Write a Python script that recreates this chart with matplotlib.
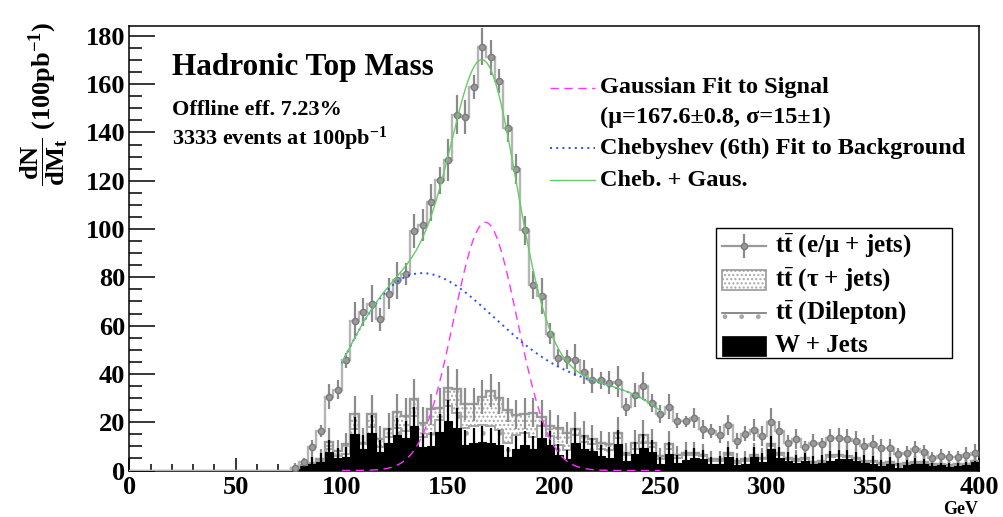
import numpy as np
import matplotlib
matplotlib.use('Agg')
import matplotlib.pyplot as plt
from matplotlib.lines import Line2D
from matplotlib.patches import Rectangle
from matplotlib.ticker import MultipleLocator
from numpy.polynomial import Chebyshev

plt.rcParams['font.family'] = ['Liberation Serif', 'DejaVu Serif']
plt.rcParams['font.weight'] = 'bold'
plt.rcParams['mathtext.fontset'] = 'custom'
plt.rcParams['mathtext.rm'] = 'Liberation Serif:bold'
plt.rcParams['mathtext.it'] = 'Liberation Serif:italic:bold'
plt.rcParams['mathtext.bf'] = 'Liberation Serif:bold'
plt.rcParams['hatch.linewidth'] = 1.0

# ---------------- data (4 GeV bins, 0-400 GeV); bins 0-18 are empty ----------------
bin_edges = np.arange(0, 404, 4)
n_empty = 19

# e/mu + jets : top of the full stack (data points)
total_vals = [1.0, 3.4, 9.7, 16.2, 30.6, 33.5, 45.6, 62.0, 65.7, 69.1,
              62.6, 73.3, 78.8, 81.3, 99.3, 101.6, 111.0, 120.2, 128.7, 147.4,
              146.3, 158.7, 175.6, 171.2, 161.2, 141.7, 124.7, 99.5, 76.9, 72.3,
              56.7, 46.7, 46.0, 45.8, 40.8, 37.3, 37.3, 36.4, 36.8, 26.4,
              31.2, 35.0, 27.9, 23.5, 26.5, 20.7, 20.3, 21.9, 17.0, 16.3,
              14.9, 18.7, 12.2, 15.3, 16.7, 14.2, 20.0, 16.3, 11.5, 12.9,
              9.8, 11.2, 10.8, 13.3, 13.3, 12.9, 12.2, 10.1, 10.8, 9.4,
              9.4, 6.9, 7.3, 8.7, 7.6, 5.3, 5.9, 5.5, 5.5, 6.6, 7.3]
total_err = [0.8, 1.5, 2.8, 2.5, 5.1, 3.8, 3.0, 7.7, 5.8, 7.7,
             4.8, 6.5, 7.7, 4.5, 7.0, 6.5, 7.5, 5.5, 8.6, 8.0,
             7.0, 5.0, 7.7, 7.3, 5.0, 5.5, 6.2, 6.0, 5.8, 7.6,
             4.5, 3.8, 4.0, 6.5, 4.8, 5.1, 3.5, 4.8, 6.5, 3.8,
             5.1, 6.0, 3.8, 3.8, 5.1, 3.0, 2.4, 4.1, 3.8, 2.8,
             3.5, 4.1, 3.5, 3.2, 4.5, 4.1, 5.7, 4.1, 3.0, 4.1,
             2.4, 3.8, 2.8, 3.8, 4.5, 4.1, 4.1, 3.5, 4.1, 3.5,
             3.5, 2.4, 3.0, 3.5, 2.8, 2.4, 2.8, 2.4, 2.4, 3.0, 3.5]

# stack level: W + dilepton + tau (top of tau+jets histogram)
tau_stack = [1.0, 2.2, 3.2, 4.8, 11.8, 8.0, 10.8, 23.2, 11.5, 23.2,
             12.9, 17.0, 24.2, 22.5, 29.5, 19.8, 25.3, 26.0, 34.3, 33.6,
             27.4, 27.5, 30.5, 33.0, 30.0, 25.0, 23.0, 23.5, 24.0, 22.0,
             18.4, 17.7, 15.6, 17.3, 14.2, 12.9, 11.2, 11.0, 15.6, 7.3,
             11.5, 14.8, 11.5, 6.0, 11.0, 6.4, 7.3, 7.3, 6.6, 4.6,
             4.6, 7.3, 4.1, 4.6, 6.6, 5.3, 10.8, 7.3, 5.3, 4.6,
             5.0, 3.6, 4.1, 6.6, 6.6, 5.9, 5.3, 4.1, 4.1, 3.2,
             3.6, 2.8, 3.2, 3.6, 3.6, 2.5, 2.8, 2.2, 2.5, 2.8, 3.9]
tau_stack_err = [2.1, 3.0, 3.5, 4.0, 5.7, 4.7, 4.9, 7.7, 6.1, 7.9,
                 5.7, 6.8, 7.6, 7.4, 8.5, 6.3, 6.4, 8.0, 9.0, 8.4,
                 6.6, 6.8, 7.0, 6.8, 6.6, 4.9, 6.0, 6.5, 6.0, 7.4,
                 6.5, 5.2, 4.5, 6.8, 6.1, 5.8, 5.1, 4.8, 6.6, 4.2,
                 5.4, 6.2, 5.7, 3.5, 5.4, 3.8, 4.4, 4.7, 4.5, 3.5,
                 3.6, 4.9, 3.3, 3.5, 4.9, 4.0, 6.0, 4.8, 4.2, 3.8,
                 4.2, 3.6, 3.8, 4.3, 4.5, 4.5, 4.2, 3.8, 3.6, 3.0,
                 3.5, 2.5, 3.3, 3.6, 3.6, 3.0, 3.3, 2.7, 3.0, 3.3, 4.0]

# stack level: W + dilepton
dilep_stack = [0.8, 2.0, 2.9, 4.1, 9.1, 6.0, 7.0, 17.0, 11.0, 18.2,
               9.6, 13.7, 17.5, 16.5, 22.4, 13.7, 15.0, 21.0, 26.6, 23.8,
               17.5, 18.3, 19.0, 18.5, 16.6, 11.5, 14.7, 15.4, 13.7, 18.6,
               14.4, 10.4, 8.6, 14.5, 12.0, 11.0, 9.0, 8.3, 13.3, 6.4,
               8.9, 11.4, 9.6, 4.6, 9.0, 5.2, 6.4, 6.4, 5.8, 3.8,
               3.9, 6.6, 3.3, 3.8, 6.2, 4.6, 10.0, 6.5, 4.7, 4.0,
               4.6, 3.3, 3.7, 5.6, 5.8, 5.4, 4.7, 3.7, 3.6, 2.6,
               3.2, 2.1, 2.8, 3.3, 3.3, 2.2, 2.6, 1.9, 2.2, 2.6, 3.8]

# W + jets
wjets = [0.7, 1.8, 2.5, 3.6, 7.6, 5.0, 5.5, 15.0, 9.0, 15.7,
         7.6, 11.2, 14.5, 13.5, 18.4, 9.7, 10.0, 16.0, 20.6, 17.8,
         10.5, 11.3, 12.0, 11.5, 10.6, 5.5, 8.7, 10.4, 8.7, 13.6,
         10.4, 6.4, 4.6, 11.5, 9.0, 8.0, 6.0, 5.3, 10.8, 3.9,
         6.9, 9.4, 7.6, 2.6, 7.0, 3.2, 4.4, 5.0, 4.6, 2.5,
         2.8, 5.5, 2.2, 2.5, 5.5, 3.6, 8.7, 5.3, 3.9, 3.2,
         4.0, 2.8, 3.2, 4.1, 4.6, 4.6, 3.9, 3.2, 2.8, 1.8,
         2.5, 1.1, 2.2, 2.8, 2.8, 1.8, 2.2, 1.4, 1.8, 2.2, 3.6]
wjets_err = [1.6, 2.5, 3.0, 3.5, 5.2, 4.2, 4.4, 7.2, 5.6, 7.4,
             5.2, 6.3, 7.1, 6.9, 8.0, 5.8, 5.9, 7.5, 8.5, 7.9,
             6.1, 6.3, 6.5, 6.3, 6.1, 4.4, 5.5, 6.0, 5.5, 6.9,
             6.0, 4.7, 4.0, 6.3, 5.6, 5.3, 4.6, 4.3, 6.1, 3.7,
             4.9, 5.7, 5.2, 3.0, 4.9, 3.3, 3.9, 4.2, 4.0, 3.0,
             3.1, 4.4, 2.8, 3.0, 4.4, 3.5, 5.5, 4.3, 3.7, 3.3,
             3.7, 3.1, 3.3, 3.8, 4.0, 4.0, 3.7, 3.3, 3.1, 2.5,
             3.0, 2.0, 2.8, 3.1, 3.1, 2.5, 2.8, 2.2, 2.5, 2.8, 3.5]

# fit results
gaus_mu, gaus_sigma, gaus_amp = 167.6, 15.0, 102.8
fit_range = (100, 250)
# points
cheb_x = [100, 108, 115, 125, 135, 144, 156, 168, 184, 202, 216, 232, 247, 250]
cheb_y = [44.5, 57.5, 68.5, 77.5, 81.5, 80.5, 75.5, 66.5, 53.5, 43.0, 37.8, 33.5, 26.5, 24.8]

x_ticks = [0, 50, 100, 150, 200, 250, 300, 350, 400]
y_ticks = [0, 20, 40, 60, 80, 100, 120, 140, 160, 180]


def full(vals):
    return np.concatenate([np.zeros(n_empty), np.asarray(vals, float)])


total = full(total_vals); total_e = full(total_err)
top = full(tau_stack); top_e = full(tau_stack_err)
mid = full(dilep_stack)
w = full(wjets); w_e = full(wjets_err)
centers = 0.5 * (bin_edges[:-1] + bin_edges[1:])

# ---------------- figure ----------------
FW, FH = 1004, 517
fig = plt.figure(figsize=(FW / 100, FH / 100), dpi=100)
ax = fig.add_axes([129.5 / FW, 1 - 470.5 / FH, (979 - 129.5) / FW, (470.5 - 26) / FH])

GRAY_OUT = '#9a9a9a'
GRAY_HATCH = '#a8a8a8'

# tau+jets stack (dense dots)
ax.stairs(top, bin_edges, baseline=mid, fill=True, facecolor='white',
          edgecolor=GRAY_HATCH, hatch='....', linewidth=0, zorder=1)
ax.stairs(top, bin_edges, baseline=None, color=GRAY_OUT, lw=1.7, zorder=2)
nz = top > 0
ax.vlines(centers[nz], top[nz] - top_e[nz], top[nz] + top_e[nz], color='#8c8c8c', lw=1.6, zorder=2)

# dilepton stack (sparse dots)
ax.stairs(mid, bin_edges, baseline=w, fill=True, facecolor='white',
          edgecolor=GRAY_HATCH, hatch='.', linewidth=0, zorder=3)
ax.stairs(mid, bin_edges, baseline=None, color='#a5a5a5', lw=1.4, zorder=3)

# W + jets
ax.stairs(w, bin_edges, baseline=0, fill=True, facecolor='black', edgecolor='black', lw=0.8, zorder=4)
nz = w > 0
ax.vlines(centers[nz], w[nz] - w_e[nz], w[nz] + w_e[nz], color='black', lw=1.6, zorder=4)

# e/mu + jets (total) histogram with points
ax.stairs(total, bin_edges, baseline=None, color='#b5b5b5', lw=1.7, zorder=5)
nz = total > 0
ax.errorbar(centers[nz], total[nz], yerr=total_e[nz], fmt='o', color='#8a8a8a',
            ms=4.5, mfc='#9a9a9a', mec='#7a7a7a', elinewidth=1.6, capsize=0, zorder=6)

# fits
xf = np.linspace(fit_range[0], fit_range[1], 500)
gaus = gaus_amp * np.exp(-0.5 * ((xf - gaus_mu) / gaus_sigma) ** 2)
cheb = Chebyshev.fit(cheb_x, cheb_y, 6)(xf)
ax.plot(xf, gaus, color='#ff33ff', lw=1.0, ls=(0, (6, 4)), zorder=7)
ax.plot(xf, cheb, color='#2a4cff', lw=1.4, ls=(0, (1, 2.2)), zorder=7)
ax.plot(xf, cheb + gaus, color='#66cc66', lw=1.0, zorder=8)

# axes styling
ax.set_xlim(0, 400)
ax.set_ylim(0, 184.1)
ax.set_xticks(x_ticks)
ax.set_yticks(y_ticks)
ax.xaxis.set_minor_locator(MultipleLocator(10))
ax.yaxis.set_minor_locator(MultipleLocator(5))
ax.tick_params(axis='y', which='major', direction='in', length=18.7, width=1.1, labelsize=19, pad=3)
ax.tick_params(axis='y', which='minor', direction='in', length=9.4, width=1.1)
ax.tick_params(axis='x', which='major', direction='in', length=9.4, width=1.1, labelsize=19, pad=4)
ax.tick_params(axis='x', which='minor', direction='in', length=5.0, width=1.1)
ax.tick_params(top=False, right=False, which='both')
for s in ax.spines.values():
    s.set_linewidth(1.1)


def fx(x):
    return x / FW


def fy(y):
    return 1 - y / FH


fig.text(fx(978), fy(509), 'GeV', fontsize=13, ha='right', va='center')
fig.text(fx(44), fy(104), r'$\dfrac{\mathrm{dN}}{\mathrm{dM_{t}}}$ (100pb$^{-1}$)', rotation=90,
         fontsize=19, ha='center', va='center')

# title & info
fig.text(fx(172), fy(68), 'Hadronic Top Mass', fontsize=22.5, ha='left', va='center')
fig.text(fx(172), fy(110), 'Offline eff. 7.23%', fontsize=16, ha='left', va='center')
fig.text(fx(172), fy(139), r'3333 events at 100pb$^{-1}$', fontsize=16, ha='left', va='center')

# fit legend (no frame)
tf = fig.transFigure
fig.add_artist(Line2D([fx(550), fx(595)], [fy(88), fy(88)], transform=tf, color='#ff33ff', lw=1.0, ls=(0, (6, 4))))
fig.add_artist(Line2D([fx(550), fx(595)], [fy(148), fy(148)], transform=tf, color='#2a4cff', lw=1.4, ls=(0, (1, 2.2))))
fig.add_artist(Line2D([fx(550), fx(595)], [fy(180), fy(180)], transform=tf, color='#66cc66', lw=1.0))
fig.text(fx(600), fy(88), 'Gaussian Fit to Signal', fontsize=17.5, ha='left', va='center')
fig.text(fx(600), fy(117), '(μ=167.6±0.8, σ=15±1)', fontsize=17.5, ha='left', va='center')
fig.text(fx(600), fy(148), 'Chebyshev (6th) Fit to Background', fontsize=17.5, ha='left', va='center')
fig.text(fx(600), fy(180), 'Cheb. + Gaus.', fontsize=17.5, ha='left', va='center')

# histogram legend (framed)
fig.add_artist(Rectangle((fx(716), fy(358)), (952 - 716) / FW, (358 - 228) / FH, transform=tf,
                         fill=False, edgecolor='black', lw=1.0))
# e/mu entry
fig.add_artist(Line2D([fx(722), fx(766)], [fy(246), fy(246)], transform=tf, color='#9a9a9a', lw=1.6))
fig.add_artist(Line2D([fx(744), fx(744)], [fy(235), fy(257)], transform=tf, color='#8a8a8a', lw=1.6))
fig.add_artist(Line2D([fx(744)], [fy(246)], transform=tf, marker='o', ms=4.5, mfc='#9a9a9a', mec='#7a7a7a', lw=0))
# tau entry
fig.add_artist(Rectangle((fx(722), fy(290)), 44 / FW, 20 / FH, transform=tf, facecolor='white',
                         edgecolor=GRAY_HATCH, hatch='....', lw=0))
fig.add_artist(Rectangle((fx(722), fy(290)), 44 / FW, 20 / FH, transform=tf, fill=False,
                         edgecolor=GRAY_OUT, lw=1.2))
# dilepton entry
fig.add_artist(Rectangle((fx(722), fy(323)), 44 / FW, 20 / FH, transform=tf, facecolor='white',
                         edgecolor=GRAY_HATCH, hatch='.', lw=0))
fig.add_artist(Line2D([fx(722), fx(766)], [fy(313), fy(313)], transform=tf, color='#777777', lw=1.2))
# W entry
fig.add_artist(Rectangle((fx(722), fy(356)), 44 / FW, 20 / FH, transform=tf, facecolor='black',
                         edgecolor='black', lw=0.5))

fig.text(fx(775), fy(246), r'$\mathrm{t\bar{t}}$ (e/μ + jets)', fontsize=18, ha='left', va='center')
fig.text(fx(775), fy(280), r'$\mathrm{t\bar{t}}$ (τ + jets)', fontsize=18, ha='left', va='center')
fig.text(fx(775), fy(313), r'$\mathrm{t\bar{t}}$ (Dilepton)', fontsize=18, ha='left', va='center')
fig.text(fx(775), fy(346), 'W + Jets', fontsize=18, ha='left', va='center')

fig.savefig('out.png', dpi=100, facecolor='white')
